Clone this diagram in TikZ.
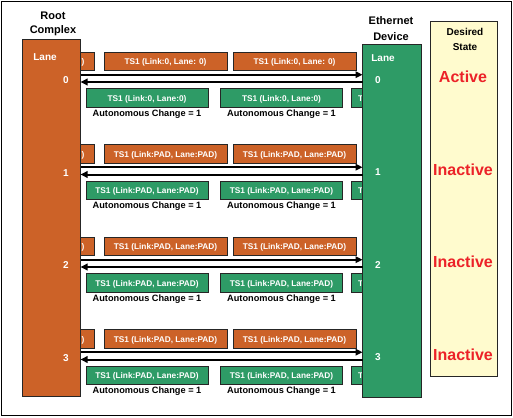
\documentclass[tikz,border=0pt]{standalone}
\usepackage{fontspec}
\setmainfont{Liberation Sans}
\usetikzlibrary{arrows.meta}
\definecolor{rco}{RGB}{204,98,40}
\definecolor{edg}{RGB}{46,155,102}
\definecolor{dsy}{RGB}{255,251,206}
\definecolor{act}{RGB}{236,34,40}
\tikzset{
    txt/.style={inner sep=0pt,text height=0.72em,text depth=0pt},
    tsorg/.style={txt,fill=rco,draw=black!85,line width=0.8pt,text=white,minimum width=123pt,minimum height=18.5pt,font=\fontsize{8.3}{9}\selectfont\bfseries},
    tsgrn/.style={tsorg,fill=edg,minimum width=122pt},
    tspart/.style={minimum width=#1,text width=#1,align=left},
    chg/.style={txt,font=\fontsize{9.2}{10}\selectfont\bfseries},
    dev/.style={draw=black!85,line width=0.8pt,inner sep=0pt,minimum width=58.5pt},
    lanetx/.style={txt,text=white,font=\fontsize{10}{12}\selectfont\bfseries},
    ttl/.style={txt,font=\fontsize{11}{13}\selectfont\bfseries},
    state/.style={txt,text=act,font=\fontsize{16}{18}\selectfont\bfseries},
    link/.style={line width=2pt,-{Triangle[length=7pt,width=6.5pt]}}
}
\begin{document}
\begin{tikzpicture}[x=1pt,y=-1pt]
        \useasboundingbox (0,0) rectangle (513,417);
        \draw [line width=0.8pt] (1.5,1.5) rectangle (511,415.5);
        % titles
        \node [ttl] (rct1) at (53,16) {Root};
        \node [ttl] (rct2) at (53,30) {Complex};
        \node [ttl] (edt1) at (391,21) {Ethernet};
        \node [ttl] (edt2) at (391,37) {Device};
        % training sets between the two devices
        \foreach \r/\txa/\txb in {
            0/{TS1 (Link:0, Lane: 0)}/{TS1 (Link:0, Lane:0)},
            1/{TS1 (Link:PAD, Lane:PAD)}/{TS1 (Link:PAD, Lane:PAD)},
            2/{TS1 (Link:PAD, Lane:PAD)}/{TS1 (Link:PAD, Lane:PAD)},
            3/{TS1 (Link:PAD, Lane:PAD)}/{TS1 (Link:PAD, Lane:PAD)}} {
            \pgfmathsetmacro{\t}{52+92.5*\r}
            \node [tsorg,tspart=13.5pt] (ts\r o0) at (87.25,\t+9.25) {\hspace*{1pt})};
            \foreach \x [count=\i] in {165.5,294.5} {
                \node [tsorg] (ts\r o\i) at (\x,\t+9.25) {\txa};
            }
            \foreach \x [count=\i] in {147,281.5} {
                \node [tsgrn] (ts\r g\i) at (\x,\t+45.75) {\txb};
                \node [chg] (ac\r\i) at (\x,\t+60.7) {Autonomous Change = 1};
            }
            \node [tsgrn,tspart=12pt] (ts\r g3) at (357,\t+45.75) {\hspace*{7pt}T};
        }
        % devices
        \node [dev,fill=rco,minimum height=357pt] (rc) at (51.25,217.5) {};
        \node [dev,fill=edg,minimum height=353pt] (ed) at (391.75,220.5) {};
        \node [dev,fill=dsy,minimum width=66.5pt,minimum height=355pt] (ds) at (463.75,199) {};
        \node [lanetx] (rcl) at (45,57) {Lane};
        \node [lanetx] (edl) at (383,58) {Lane};
        \node [txt,font=\fontsize{10}{12}\selectfont\bfseries] (ds1) at (465,32) {Desired};
        \node [txt,font=\fontsize{10}{12}\selectfont\bfseries] (ds2) at (465,47) {State};
        % lanes
        \foreach \r/\st in {0/Active,1/Inactive,2/Inactive,3/Inactive} {
            \pgfmathsetmacro{\t}{52+92.5*\r}
            \coordinate (ra\r) at (80.5,\t+22.7);
            \coordinate (ea\r) at (362.5,\t+22.7);
            \coordinate (rb\r) at (80.5,\t+30);
            \coordinate (eb\r) at (362.5,\t+30);
            \draw [link] (ra\r) -- (ea\r);
            \draw [link] (eb\r) -- (rb\r);
            \node [lanetx] (rn\r) at (66,\t+28) {\r};
            \node [lanetx] (en\r) at (378,\t+27.5) {\r};
            \node [state] (st\r) at (463,\t+27) {\st};
        }
\end{tikzpicture}
\end{document}
